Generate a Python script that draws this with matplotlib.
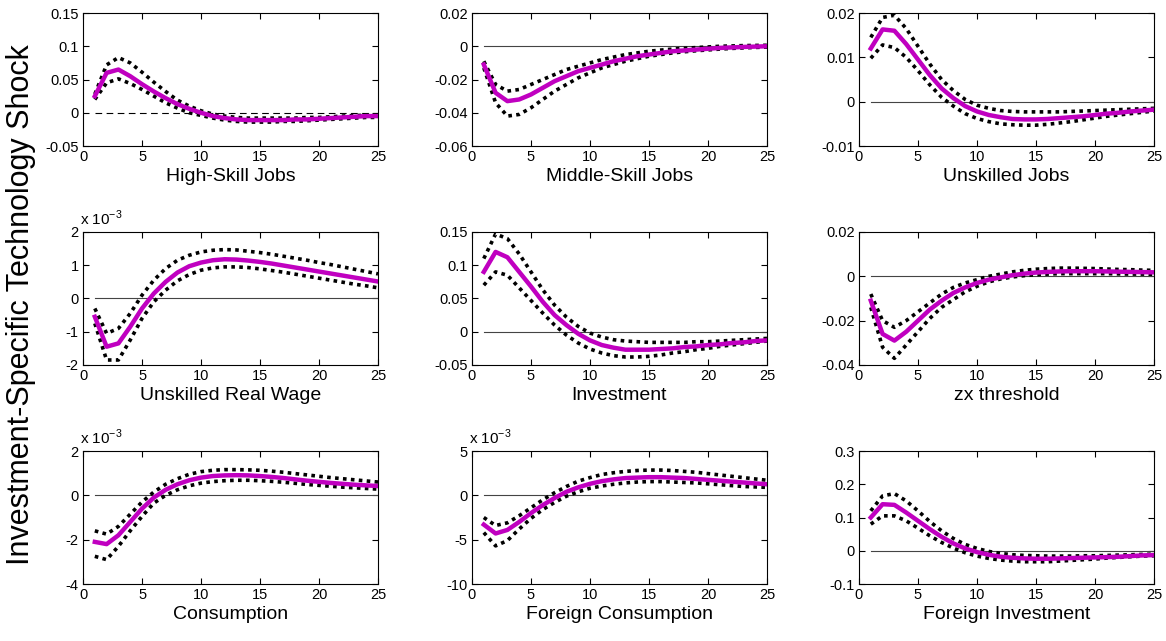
import matplotlib
matplotlib.use("Agg")
import matplotlib.pyplot as plt
import numpy as np

plt.rcParams['font.family'] = ['Liberation Sans', 'DejaVu Sans']

# horizon
periods = list(range(1, 26))

# panel titles (shown below each axis)
titles = ["High-Skill Jobs", "Middle-Skill Jobs", "Unskilled Jobs",
          "Unskilled Real Wage", "Investment", "zx threshold",
          "Consumption", "Foreign Consumption", "Foreign Investment"]

# responses: mean, upper band, lower band (panels 4,7,8 in units of 1e-3)
hs_mean = [0.025, 0.06, 0.065, 0.055, 0.043, 0.032, 0.022, 0.013, 0.006, 0.0, -0.005, -0.008, -0.01, -0.011, -0.011, -0.011, -0.011, -0.01, -0.01, -0.009, -0.008, -0.007, -0.006, -0.005, -0.005]
hs_up = [0.028, 0.072, 0.083, 0.075, 0.061, 0.046, 0.032, 0.019, 0.01, 0.003, -0.002, -0.005, -0.007, -0.008, -0.008, -0.008, -0.008, -0.008, -0.007, -0.007, -0.006, -0.005, -0.004, -0.004, -0.003]
hs_lo = [0.02, 0.045, 0.051, 0.044, 0.035, 0.025, 0.015, 0.007, 0.0, -0.004, -0.008, -0.011, -0.013, -0.014, -0.014, -0.014, -0.013, -0.013, -0.012, -0.011, -0.01, -0.009, -0.008, -0.007, -0.007]

ms_mean = [-0.011, -0.028, -0.033, -0.032, -0.029, -0.025, -0.021, -0.018, -0.015, -0.013, -0.011, -0.009, -0.0075, -0.006, -0.005, -0.004, -0.003, -0.0025, -0.002, -0.0015, -0.001, -0.0007, -0.0004, -0.0002, 0.0]
ms_up = [-0.009, -0.023, -0.027, -0.026, -0.023, -0.02, -0.017, -0.014, -0.012, -0.01, -0.008, -0.0065, -0.005, -0.004, -0.003, -0.0023, -0.0017, -0.0012, -0.0008, -0.0004, 0.0, 0.0002, 0.0004, 0.0005, 0.0006]
ms_lo = [-0.013, -0.034, -0.042, -0.041, -0.037, -0.032, -0.027, -0.023, -0.019, -0.016, -0.013, -0.011, -0.009, -0.0075, -0.006, -0.005, -0.004, -0.0033, -0.0027, -0.0022, -0.0017, -0.0013, -0.001, -0.0007, -0.0005]

us_mean = [0.012, 0.0163, 0.016, 0.013, 0.0095, 0.006, 0.003, 0.0008, -0.001, -0.0022, -0.003, -0.0035, -0.0039, -0.004, -0.004, -0.0039, -0.0037, -0.0035, -0.0033, -0.003, -0.0027, -0.0025, -0.0022, -0.002, -0.0018]
us_up = [0.0145, 0.019, 0.0195, 0.0165, 0.0125, 0.0085, 0.005, 0.0025, 0.0005, -0.0008, -0.0015, -0.002, -0.0022, -0.0023, -0.0023, -0.0023, -0.0023, -0.0022, -0.0021, -0.002, -0.0019, -0.0018, -0.0017, -0.0016, -0.0015]
us_lo = [0.0098, 0.0128, 0.0122, 0.01, 0.007, 0.0038, 0.001, -0.001, -0.0027, -0.0038, -0.0045, -0.005, -0.0052, -0.0053, -0.0053, -0.0051, -0.0048, -0.0045, -0.0041, -0.0037, -0.0033, -0.003, -0.0027, -0.0024, -0.0021]

wage_mean = [-0.55, -1.45, -1.35, -0.85, -0.3, 0.15, 0.5, 0.78, 0.97, 1.08, 1.15, 1.18, 1.17, 1.14, 1.1, 1.05, 0.99, 0.93, 0.87, 0.81, 0.75, 0.69, 0.63, 0.57, 0.51]
wage_up = [-0.3, -1.05, -0.9, -0.45, 0.1, 0.55, 0.9, 1.15, 1.3, 1.4, 1.45, 1.47, 1.46, 1.42, 1.38, 1.33, 1.27, 1.21, 1.15, 1.08, 1.02, 0.95, 0.88, 0.81, 0.74]
wage_lo = [-0.75, -1.85, -1.85, -1.25, -0.6, -0.1, 0.25, 0.53, 0.72, 0.85, 0.92, 0.95, 0.95, 0.93, 0.89, 0.84, 0.79, 0.73, 0.67, 0.61, 0.55, 0.49, 0.43, 0.38, 0.32]

inv_mean = [0.09, 0.12, 0.112, 0.09, 0.068, 0.045, 0.025, 0.01, -0.003, -0.013, -0.02, -0.024, -0.027, -0.027, -0.027, -0.026, -0.025, -0.023, -0.022, -0.02, -0.019, -0.017, -0.016, -0.014, -0.013]
inv_up = [0.11, 0.147, 0.14, 0.117, 0.09, 0.063, 0.04, 0.022, 0.008, -0.002, -0.008, -0.012, -0.014, -0.015, -0.016, -0.016, -0.016, -0.016, -0.015, -0.015, -0.014, -0.013, -0.012, -0.011, -0.01]
inv_lo = [0.07, 0.09, 0.085, 0.066, 0.047, 0.028, 0.01, -0.005, -0.017, -0.026, -0.032, -0.036, -0.038, -0.038, -0.037, -0.035, -0.032, -0.03, -0.027, -0.025, -0.022, -0.02, -0.018, -0.016, -0.014]

zx_mean = [-0.011, -0.026, -0.029, -0.025, -0.02, -0.015, -0.011, -0.0075, -0.005, -0.003, -0.0015, -0.0005, 0.0005, 0.0012, 0.0017, 0.002, 0.0022, 0.0023, 0.0023, 0.0023, 0.0022, 0.0021, 0.002, 0.0019, 0.0018]
zx_up = [-0.008, -0.02, -0.023, -0.02, -0.016, -0.012, -0.008, -0.005, -0.003, -0.0015, 0.0, 0.001, 0.002, 0.0027, 0.0032, 0.0035, 0.0037, 0.0037, 0.0036, 0.0035, 0.0033, 0.0031, 0.003, 0.0028, 0.0027]
zx_lo = [-0.014, -0.032, -0.037, -0.031, -0.025, -0.019, -0.014, -0.0105, -0.007, -0.0045, -0.0025, -0.0012, -0.0003, 0.0003, 0.0007, 0.001, 0.0012, 0.0012, 0.0012, 0.0012, 0.0012, 0.0011, 0.001, 0.001, 0.0009]

cons_mean = [-2.1, -2.2, -1.8, -1.2, -0.6, -0.1, 0.25, 0.5, 0.68, 0.8, 0.87, 0.9, 0.91, 0.9, 0.87, 0.83, 0.78, 0.72, 0.66, 0.61, 0.56, 0.52, 0.48, 0.45, 0.42]
cons_up = [-1.6, -1.75, -1.4, -0.85, -0.3, 0.15, 0.5, 0.75, 0.95, 1.07, 1.13, 1.16, 1.16, 1.15, 1.13, 1.09, 1.04, 0.98, 0.92, 0.86, 0.8, 0.75, 0.7, 0.65, 0.6]
cons_lo = [-2.75, -2.9, -2.3, -1.6, -0.95, -0.35, 0.0, 0.25, 0.43, 0.55, 0.62, 0.66, 0.68, 0.68, 0.66, 0.63, 0.59, 0.54, 0.49, 0.45, 0.41, 0.37, 0.34, 0.31, 0.28]

fcons_mean = [-3.3, -4.3, -3.9, -3.0, -2.0, -1.1, -0.3, 0.4, 0.9, 1.3, 1.6, 1.8, 1.95, 2.0, 2.05, 2.05, 2.0, 1.95, 1.85, 1.75, 1.65, 1.55, 1.45, 1.35, 1.25]
fcons_up = [-2.5, -3.4, -3.1, -2.3, -1.4, -0.5, 0.3, 1.0, 1.6, 2.0, 2.35, 2.55, 2.7, 2.8, 2.85, 2.85, 2.8, 2.7, 2.6, 2.45, 2.3, 2.15, 2.0, 1.85, 1.7]
fcons_lo = [-4.2, -5.7, -5.1, -3.8, -2.6, -1.6, -0.8, -0.1, 0.4, 0.8, 1.05, 1.25, 1.4, 1.5, 1.55, 1.55, 1.5, 1.45, 1.4, 1.3, 1.2, 1.1, 1.0, 0.95, 0.9]

finv_mean = [0.1, 0.14, 0.138, 0.115, 0.09, 0.065, 0.042, 0.022, 0.007, -0.004, -0.012, -0.018, -0.021, -0.023, -0.024, -0.024, -0.023, -0.022, -0.021, -0.02, -0.019, -0.018, -0.016, -0.014, -0.013]
finv_up = [0.12, 0.165, 0.172, 0.15, 0.12, 0.088, 0.06, 0.037, 0.019, 0.007, -0.002, -0.008, -0.012, -0.014, -0.015, -0.016, -0.016, -0.016, -0.015, -0.015, -0.014, -0.013, -0.012, -0.011, -0.01]
finv_lo = [0.08, 0.105, 0.105, 0.09, 0.068, 0.045, 0.025, 0.008, -0.006, -0.016, -0.023, -0.028, -0.031, -0.033, -0.033, -0.033, -0.031, -0.029, -0.027, -0.025, -0.022, -0.02, -0.018, -0.016, -0.015]

means = [hs_mean, ms_mean, us_mean, wage_mean, inv_mean, zx_mean, cons_mean, fcons_mean, finv_mean]
uppers = [hs_up, ms_up, us_up, wage_up, inv_up, zx_up, cons_up, fcons_up, finv_up]
lowers = [hs_lo, ms_lo, us_lo, wage_lo, inv_lo, zx_lo, cons_lo, fcons_lo, finv_lo]

yticks = [[-0.05, 0, 0.05, 0.1, 0.15], [-0.06, -0.04, -0.02, 0, 0.02], [-0.01, 0, 0.01, 0.02],
          [-2, -1, 0, 1, 2], [-0.05, 0, 0.05, 0.1, 0.15], [-0.04, -0.02, 0, 0.02],
          [-4, -2, 0, 2], [-10, -5, 0, 5], [-0.1, 0, 0.1, 0.2, 0.3]]
ylabels = [["-0.05", "0", "0.05", "0.1", "0.15"], ["-0.06", "-0.04", "-0.02", "0", "0.02"], ["-0.01", "0", "0.01", "0.02"],
           ["-2", "-1", "0", "1", "2"], ["-0.05", "0", "0.05", "0.1", "0.15"], ["-0.04", "-0.02", "0", "0.02"],
           ["-4", "-2", "0", "2"], ["-10", "-5", "0", "5"], ["-0.1", "0", "0.1", "0.2", "0.3"]]
scaled = [False, False, False, True, False, False, True, True, False]

fig = plt.figure(figsize=(11.66, 6.41), dpi=100)

lefts = [0.0712, 0.4048, 0.7367]
bottoms = [0.7722, 0.4306, 0.0889]
w, h = 0.253, 0.2075

for i in range(9):
    r, c = i // 3, i % 3
    ax = fig.add_axes([lefts[c], bottoms[r], w, h])
    if i == 0:
        ax.plot([1, 25], [0, 0], color='black', lw=0.8, ls='--', dashes=(6, 4))
    else:
        ax.plot([1, 25], [0, 0], color='#444444', lw=0.8)
    ax.plot(periods, uppers[i], color='black', lw=2.6, ls=(0, (1, 1.2)))
    ax.plot(periods, lowers[i], color='black', lw=2.6, ls=(0, (1, 1.2)))
    ax.plot(periods, means[i], color='#c000c0', lw=3.2)
    ax.set_xlim(0, 25)
    ax.set_ylim(yticks[i][0], yticks[i][-1])
    ax.set_xticks([0, 5, 10, 15, 20, 25])
    ax.set_yticks(yticks[i])
    ax.set_yticklabels(ylabels[i])
    ax.tick_params(direction='in', top=True, right=True, length=4, width=0.8,
                   labelsize=10.5, pad=3)
    for s in ax.spines.values():
        s.set_linewidth(0.8)
    ax.set_xlabel(titles[i], fontsize=14, labelpad=3)
    if scaled[i]:
        ax.text(-0.01, 1.03, r"x 10$^{\mathregular{-3}}$", transform=ax.transAxes,
                fontsize=11, ha='left', va='bottom')

fig.text(0.018, 0.524, "Investment-Specific Technology Shock", rotation=90,
         fontsize=22, ha='center', va='center')

fig.savefig("out.png", dpi=100)
